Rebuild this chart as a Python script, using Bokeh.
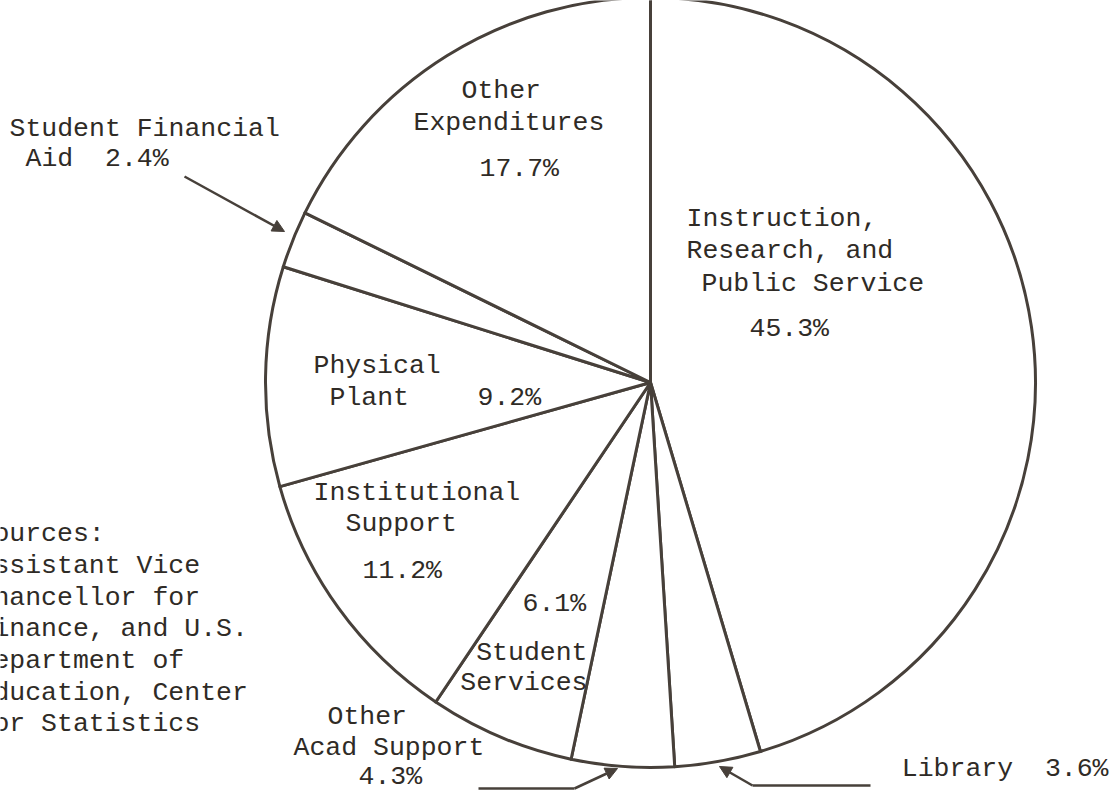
import math
from bokeh.plotting import figure
from bokeh.models import Range1d, Arrow, NormalHead
from bokeh.core.properties import value
from bokeh.embed import file_html
from bokeh.resources import INLINE

# ---------------- data ----------------
categories = ["Instruction, Research, and Public Service", "Library",
              "Other Acad Support", "Student Services", "Institutional Support",
              "Physical Plant", "Student Financial Aid", "Other Expenditures"]
shares = [45.3, 3.6, 4.3, 6.1, 11.2, 9.2, 2.4, 17.7]
pct = {c: f"{v:.1f}%" for c, v in zip(categories, shares)}

source_lines = ["Sources:", "Assistant Vice", "Chancellor for", "Finance, and U.S.",
                "Department of", "Education, Center", "for Statistics"]

# ---------------- layout ----------------
W, H = 1111, 791
INK = "#47403a"
TXT = "#2f2b26"
FONT = value("Liberation Mono")
FS = "26.5px"
SP = "\u00a0"


def sy(Y):
    return 799 - Y


CX, CY, R = 650, sy(382), 385

total = sum(shares)
starts, ends = [], []
acc = 0.0
for s in shares:
    a0 = math.pi / 2 - 2 * math.pi * acc / total
    acc += s
    a1 = math.pi / 2 - 2 * math.pi * acc / total
    starts.append(a1)
    ends.append(a0)

p = figure(width=W, height=H, x_range=Range1d(0, W), y_range=Range1d(799 - H, 799),
           output_backend="svg", toolbar_location=None, min_border=0,
           x_axis_type=None, y_axis_type=None)
p.grid.visible = False
p.outline_line_color = None
p.background_fill_color = "white"
p.border_fill_color = "white"

p.wedge(x=[CX] * len(shares), y=[CY] * len(shares), radius=R,
        start_angle=starts, end_angle=ends, direction="anticlock",
        fill_color="white", line_color=INK, line_width=3, line_join="round")

# labels (screen x, screen y, text, align)
items = [
    (461, 90, "Other", "left"),
    (413, 122, "Expenditures", "left"),
    (479, 168, pct["Other Expenditures"], "left"),
    (9, 128, "Student Financial", "left"),
    (25, 158, "Aid" + SP + SP + pct["Student Financial Aid"], "left"),
    (686, 218, "Instruction,", "left"),
    (686, 250, "Research, and", "left"),
    (701, 283, "Public Service", "left"),
    (749, 328, pct["Instruction, Research, and Public Service"], "left"),
    (313, 365, "Physical", "left"),
    (329, 397, "Plant", "left"),
    (477, 397, pct["Physical Plant"], "left"),
    (313, 492, "Institutional", "left"),
    (345, 523, "Support", "left"),
    (362, 570, pct["Institutional Support"], "left"),
    (522, 603, pct["Student Services"], "left"),
    (587, 652, "Student", "right"),
    (587, 682, "Services", "right"),
    (327, 716, "Other", "left"),
    (293, 747, "Acad Support", "left"),
    (358, 776, pct["Other Acad Support"], "left"),
    (1108, 768, "Library" + SP + SP + pct["Library"], "right"),
]
src_y = [533, 565, 597, 628, 660, 692, 723]
for t, yy in zip(source_lines, src_y):
    items.append((-23, yy, t, "left"))

for align in ("left", "right"):
    sel = [it for it in items if it[3] == align]
    p.text(x=[it[0] for it in sel], y=[sy(it[1]) for it in sel], text=[it[2] for it in sel],
           text_font=FONT, text_font_size=FS, text_color=TXT,
           text_align=align, text_baseline="middle")

# arrows
def arrow(x0, y0, x1, y1):
    p.add_layout(Arrow(end=NormalHead(size=12, fill_color=INK, line_color=INK, line_width=1),
                       x_start=x0, y_start=sy(y0), x_end=x1, y_end=sy(y1),
                       line_color=INK, line_width=2.5))

arrow(184, 176, 284, 231)
p.line([478, 574], [sy(788), sy(788)], line_color=INK, line_width=2.5)
arrow(574, 788, 617, 768)
p.line([870, 752], [sy(785), sy(785)], line_color=INK, line_width=2.5)
arrow(752, 785, 719, 766)

open("out.html", "w").write(file_html(p, INLINE))
